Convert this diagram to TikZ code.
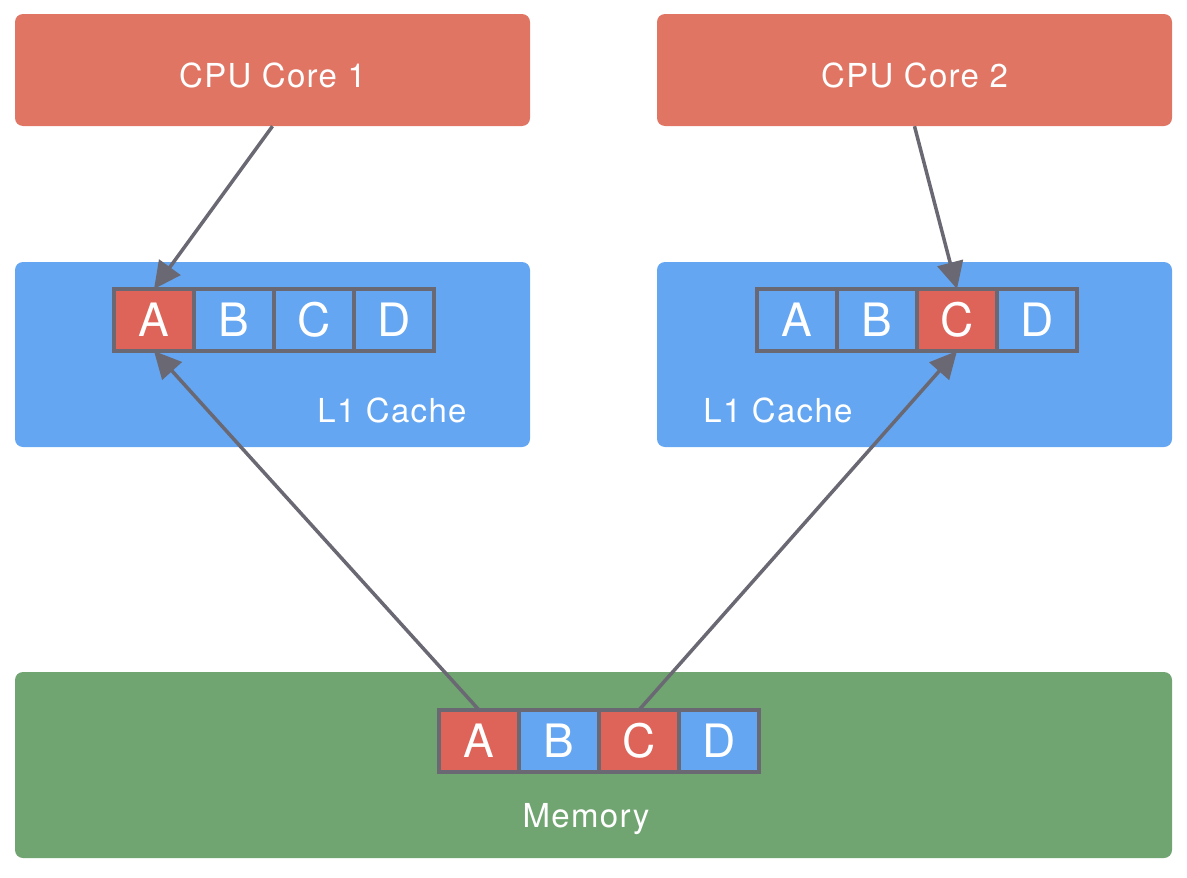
\documentclass[tikz,border=0pt]{standalone}
\usepackage{fontspec}
\setmainfont{TeX Gyre Heros}
\usetikzlibrary{positioning,arrows.meta}
\definecolor{corered}{HTML}{E07564}
\definecolor{cellred}{HTML}{DE6459}
\definecolor{cacheblue}{HTML}{64A6F2}
\definecolor{memgreen}{HTML}{70A571}
\definecolor{linegray}{HTML}{6A6973}
\newcommand{\txtfont}{\fontsize{33}{40}\selectfont\addfontfeature{LetterSpace=4}}
\begin{document}
\begin{tikzpicture}[x=1pt,y=-1pt,
    box/.style={rounded corners=8pt,minimum width=515pt,minimum height=112pt,inner sep=0pt,text=white,text height=34pt,text depth=0pt,font=\txtfont},
    cell/.style={draw=linegray,line width=4pt,outer sep=0pt,minimum width=80pt,minimum height=62pt,inner sep=0pt,text=white,font=\fontsize{46}{54}\selectfont},
    lbl/.style={text=white,anchor=base,inner sep=0pt,font=\txtfont},
    arr/.style={draw=linegray,line width=3.5pt,-{Triangle[length=27pt,width=26pt]}}]
    \useasboundingbox (0,0) rectangle (1187,878);

    \node[box,fill=corered] (core1) at (272.5,70) {CPU Core 1};
    \node[box,fill=corered] (core2) at (914.5,70) {CPU Core 2};
    \node[box,fill=cacheblue,minimum height=185pt] (l1a) at (272.5,354.5) {};
    \node[box,fill=cacheblue,minimum height=185pt] (l1b) at (914.5,354.5) {};
    \node[box,fill=memgreen,minimum width=1157pt,minimum height=186pt] (mem) at (593.5,765) {};

    \node[lbl] (l1alab) at (392,422) {L1 Cache};
    \node[lbl] (l1blab) at (778,422) {L1 Cache};
    \node[lbl] (memlab) at (586,827) {Memory};

    % cache line in core 1
    \node[cell,fill=cellred] (ca) at (154,320) {A};
    \node[cell,fill=cacheblue,right=0pt of ca] (cb) {B};
    \node[cell,fill=cacheblue,right=0pt of cb] (cc) {C};
    \node[cell,fill=cacheblue,right=0pt of cc] (cd) {D};

    % cache line in core 2
    \node[cell,fill=cacheblue] (da) at (797,320) {A};
    \node[cell,fill=cacheblue,right=0pt of da] (db) {B};
    \node[cell,fill=cellred,right=0pt of db] (dc) {C};
    \node[cell,fill=cacheblue,right=0pt of dc] (dd) {D};

    % memory line
    \node[cell,fill=cellred] (ma) at (479,741) {A};
    \node[cell,fill=cacheblue,right=0pt of ma] (mb) {B};
    \node[cell,fill=cellred,right=0pt of mb] (mc) {C};
    \node[cell,fill=cacheblue,right=0pt of mc] (md) {D};

    \draw[arr] (core1.south) -- (ca.north);
    \draw[arr] (core2.south) -- (dc.north);
    \draw[arr] (ma.north) -- (ca.south);
    \draw[arr] (mc.north) -- (dc.south);
\end{tikzpicture}
\end{document}
